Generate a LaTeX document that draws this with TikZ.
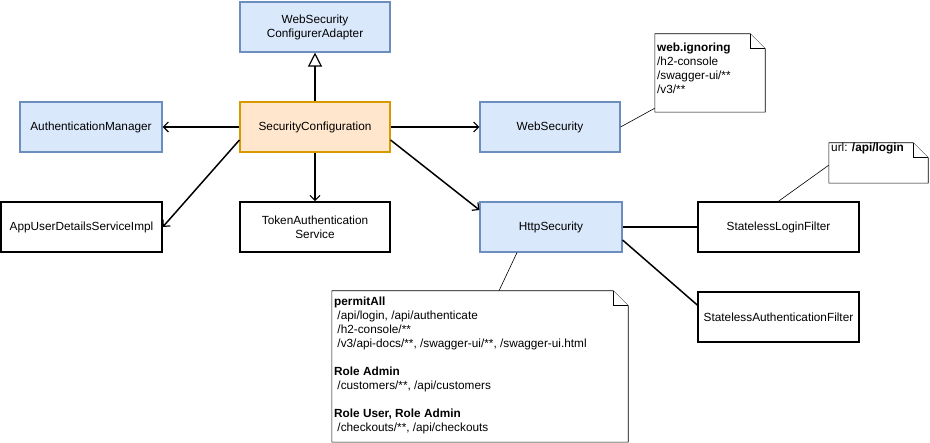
\documentclass[tikz,border=0pt]{standalone}
\usepackage{fontspec}
\setmainfont{Liberation Sans}
\usepackage{tikz}
\usetikzlibrary{arrows.meta}

\definecolor{bluefill}{HTML}{DAE8FC}
\definecolor{blueline}{HTML}{6C8EBF}
\definecolor{orangefill}{HTML}{FFE6CC}
\definecolor{orangeline}{HTML}{D79B00}

% folded corner of a note, drawn round a named node
\newcommand{\dogear}[1]{%
	\draw[noteline] (#1.north west) -- ([xshift=-15pt]#1.north east) -- ([yshift=-15pt]#1.north east) -- (#1.south east) -- (#1.south west) -- cycle;
	\draw[noteline] ([xshift=-15pt]#1.north east) -- ([xshift=-15pt,yshift=-15pt]#1.north east) -- ([yshift=-15pt]#1.north east);
}

\begin{document}
\begin{tikzpicture}[x=1pt,y=-1pt,
	font=\fontsize{11.8}{14}\selectfont,
	box/.style={draw=black,line width=1.5pt,minimum width=161pt,minimum height=50pt,align=center,inner sep=2pt},
	bluebox/.style={box,fill=bluefill,draw=blueline,line width=1.1pt},
	notebox/.style={draw=none,inner sep=0pt},
	notetext/.style={anchor=north west,align=left,inner sep=1pt},
	noteline/.style={draw=black,line width=0.6pt,fill=white},
	conn/.style={draw=black,line width=1.5pt},
	uses/.style={conn,-{Straight Barb[length=5pt,width=10pt,line width=1.2pt]}},
	extends/.style={conn,-{Triangle[open,fill=white,length=14pt,width=14pt,line width=1.2pt]}}]
	\useasboundingbox (0,0) rectangle (930,443);

	\node[box,fill=orangefill,draw=orangeline,line width=1.1pt,minimum width=150pt] (seccfg) at (315,127) {SecurityConfiguration};
	\node[bluebox,minimum width=150pt] (adapter)  at (315,27)    {WebSecurity\\ConfigurerAdapter};
	\node[bluebox,minimum width=142pt] (authmgr)  at (91,127)    {AuthenticationManager};
	\node[bluebox,minimum width=140pt] (websec)   at (550,127)   {WebSecurity};
	\node[box]                         (userdet)  at (81.5,227)  {AppUserDetailsServiceImpl};
	\node[box,minimum width=150pt]     (tokensvc) at (315,227)   {TokenAuthentication\\Service};
	\node[bluebox,minimum width=142pt] (httpsec)  at (551,227)   {HttpSecurity};
	\node[box]                         (loginflt) at (778.5,227) {StatelessLoginFilter};
	\node[box]                         (authflt)  at (778.5,317) {StatelessAuthenticationFilter};

	% notes
	\node[notebox,minimum width=110pt,minimum height=78pt] (ignnote) at (710,73) {};
	\node[notebox,minimum width=99pt,minimum height=40pt] (urlnote) at (878.5,163) {};
	\node[notebox,minimum width=296pt,minimum height=151pt] (permnote) at (480,366.5) {};

	\path[conn] (seccfg.north) edge[extends] (adapter.south);
	\path[conn] (seccfg.west) edge[uses] (authmgr.east);
	\path[conn] (seccfg.east) edge[uses] (websec.west);
	\path[conn] ([yshift=-13pt]seccfg.west) edge[uses] (userdet.east);
	\path[conn] (seccfg.south) edge[uses] (tokensvc.north);
	\path[conn] ([yshift=-13pt]seccfg.east) edge[uses] ([yshift=17pt]httpsec.west);
	\path[conn] (httpsec.east) edge (loginflt.west);
	\path[conn] ([yshift=-13pt]httpsec.east) edge ([yshift=12pt]authflt.west);

	\draw[noteline] (websec.east) -- ([yshift=4pt]ignnote.south west);
	\draw[noteline] (loginflt.north) -- ([xshift=3pt]urlnote.west);
	\draw[noteline] ([xshift=-34pt]httpsec.south) -- ([xshift=19pt]permnote.north);

	\dogear{ignnote}
	\dogear{urlnote}
	\dogear{permnote}

	\node[notetext] (igntext) at (656,42) {\textbf{web.ignoring}\\/h2-console\\/swagger-ui/**\\/v3/**};
	\node[notetext] (urltext) at (830,142) {url: \textbf{/api/login}};
	\node[notetext] (permtext) at (333,296) {\textbf{permitAll}\\
		\ /api/login, /api/authenticate\\
		\ /h2-console/**\\
		\ /v3/api-docs/**, /swagger-ui/**, /swagger-ui.html\\[14pt]
		\textbf{Role Admin}\\
		\ /customers/**, /api/customers\\[14pt]
		\textbf{Role User, Role Admin}\\
		\ /checkouts/**, /api/checkouts};
\end{tikzpicture}
\end{document}
